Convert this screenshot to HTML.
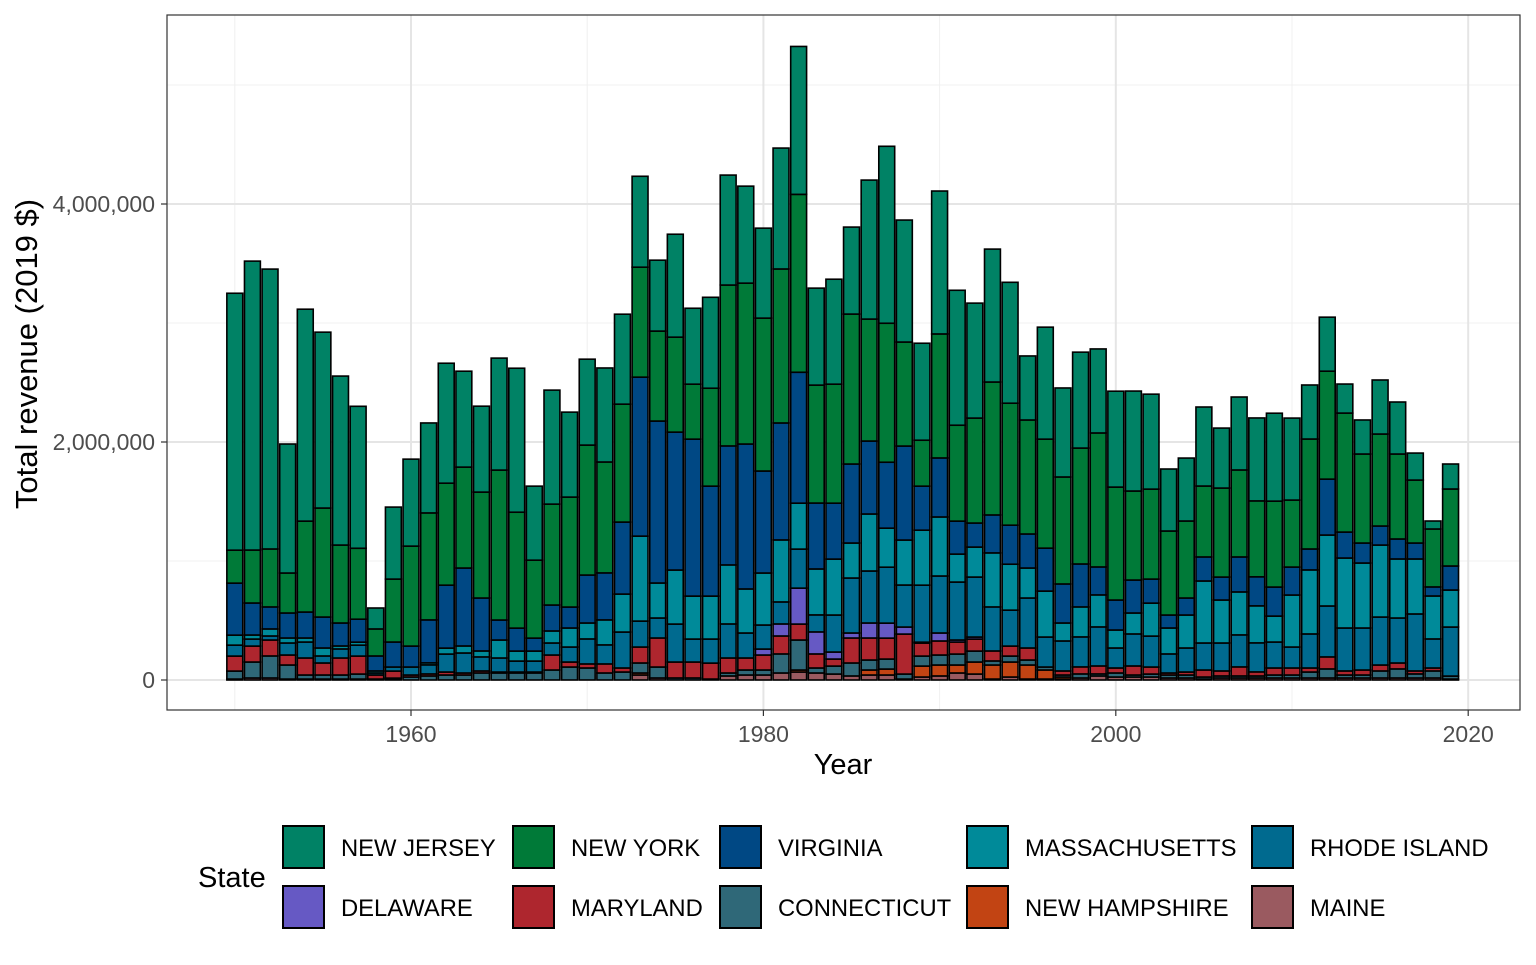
<!DOCTYPE html>
<html><head><meta charset="utf-8"><style>
body{margin:0;background:#fff;}
svg text{font-family:"Liberation Sans",Arial,sans-serif;}
</style></head><body>
<svg id="chart" width="1536" height="960" xmlns="http://www.w3.org/2000/svg">
<rect x="0" y="0" width="1536" height="960" fill="#fff"/>
<g id="grid"></g>
<g id="bars"></g>
<rect x="167" y="15" width="1353" height="695" fill="none" stroke="#333" stroke-width="1.2"/>
<g id="axes"></g>
<text x="843" y="774" font-size="29" text-anchor="middle" fill="#000">Year</text>
<text transform="translate(37,354) rotate(-90)" font-size="31" text-anchor="middle" fill="#000">Total revenue (2019 $)</text>
<g id="legend">
<text x="198" y="887" font-size="29" fill="#000">State</text>
</g>
</svg>
<script>
const years = [];
for (let y = 1950; y <= 2019; y++) years.push(y);
const states = ["NEW JERSEY","NEW YORK","VIRGINIA","MASSACHUSETTS","RHODE ISLAND","DELAWARE","MARYLAND","CONNECTICUT","NEW HAMPSHIRE","MAINE"];
const colors = ["#008265","#007A38","#004884","#008A99","#006A8F","#6659C4","#AE262E","#2F6878","#C24413","#9A5A60"];
// values in thousands of 2019 $
const newJersey = [2159,2428,2352,1084,1781,1478,1420,1193,176,605,731,756,1008,806,722,941,1210,622,958,714,722,790,756,764,596,865,638,764,924,815,756,1016,1243,815,882,731,1168,1487,1025,815,1201,1134,966,1117,1016,538,941,748,806,706,806,840,798,521,529,664,504,613,697,739,689,454,454,244,286,454,437,227,67,210];
const newYork = [277,445,487,336,764,916,655,596,227,529,840,899,857,848,890,1260,974,655,848,924,1092,932,991,924,756,798,462,823,1352,1352,1285,1294,1495,991,1000,1260,1025,1168,874,386,1042,806,882,1117,1025,958,916,899,974,1126,949,748,756,706,647,596,748,731,638,722,563,924,907,1000,748,773,714,529,487,647];
const virginia = [437,269,185,210,218,260,193,193,126,210,176,361,529,655,445,168,193,109,218,176,403,395,605,1336,1361,1159,1319,924,1000,1218,857,983,1100,554,470,664,613,554,790,370,496,277,202,319,328,286,361,328,361,235,252,277,202,109,143,202,193,294,244,244,235,176,470,218,168,160,168,134,76,202];
const massachusetts = [84,34,59,42,34,67,25,25,17,0,0,17,50,59,50,151,84,84,101,160,134,210,319,714,294,454,361,361,496,370,437,521,386,386,470,294,479,328,378,462,496,235,252,454,386,252,386,151,252,269,151,176,277,218,277,521,361,361,311,218,437,538,596,588,546,605,496,462,361,311];
const rhodeIsland = [92,59,34,101,134,59,76,92,17,34,67,76,151,168,118,118,92,92,101,126,210,160,302,218,168,319,193,202,286,210,202,185,328,143,311,462,437,470,353,479,479,487,504,370,302,420,252,252,252,328,168,269,260,160,202,227,235,269,244,218,176,286,428,361,353,403,378,479,244,412];
const delaware = [0,0,0,0,0,0,0,0,0,0,0,0,0,0,0,0,0,0,0,0,0,0,0,0,0,0,0,0,0,0,50,101,302,185,59,42,126,126,59,8,67,17,17,0,0,0,0,0,0,0,0,0,0,0,0,0,0,0,0,0,0,0,0,0,0,0,0,0,0,0];
const maryland = [126,134,134,84,143,101,143,151,34,59,17,17,25,17,17,8,8,8,126,42,34,76,34,134,244,134,134,134,126,101,126,151,134,118,59,210,185,176,336,109,118,101,101,84,84,101,0,34,59,67,42,76,59,17,25,59,42,76,34,59,59,34,101,34,42,50,50,25,25,0];
const connecticut = [67,134,185,118,34,34,34,42,0,8,25,34,42,42,59,59,59,59,84,109,101,59,67,84,92,17,17,8,25,42,42,160,252,42,67,109,84,84,42,84,84,92,92,34,50,42,25,17,34,17,34,17,25,25,25,17,17,17,17,25,25,50,76,25,25,59,76,34,59,25];
const newHampshire = [0,0,0,0,0,0,0,0,0,0,0,0,0,0,0,0,0,0,0,0,0,0,0,17,0,0,0,0,0,0,0,0,17,0,0,0,42,50,0,92,92,67,101,118,126,118,76,17,0,0,0,0,0,0,0,0,0,0,0,0,0,0,0,0,0,0,0,0,0,0];
const maine = [8,17,17,8,8,8,8,8,8,8,0,0,0,0,0,0,0,0,0,0,0,0,0,42,17,0,0,0,34,42,42,59,67,59,50,34,42,42,8,25,34,59,50,8,25,8,8,8,17,34,25,25,25,17,17,8,17,17,17,17,17,17,17,17,17,17,17,17,17,8];
const series = [newJersey,newYork,virginia,massachusetts,rhodeIsland,delaware,maryland,connecticut,newHampshire,maine];
const yTicks = [0,2000000,4000000];
const yTickLabels = ["0","2,000,000","4,000,000"];
const yMinor = [1000000,3000000,5000000];
const xTicks = [1960,1980,2000,2020];
const xMinor = [1950,1970,1990,2010];

const NS = "http://www.w3.org/2000/svg";
const xScale = yr => 411 + (yr - 1960) * 17.62;
const yScale = v => 680 - v / 1000000 * 119;
function mk(tag, attrs, parent){const e=document.createElementNS(NS,tag);for(const k in attrs)e.setAttribute(k,attrs[k]);parent.appendChild(e);return e;}
const grid=document.getElementById('grid'), bars=document.getElementById('bars'), axes=document.getElementById('axes'), legend=document.getElementById('legend');
yMinor.forEach(v=>{const l=mk('line',{x1:167,x2:1520,y1:yScale(v),y2:yScale(v),stroke:'#f0f0f0','stroke-width':1},grid);

});
xMinor.forEach(v=>{const l=mk('line',{x1:xScale(v),x2:xScale(v),y1:15,y2:710,stroke:'#f0f0f0','stroke-width':1},grid);

});
yTicks.forEach((v,i)=>{const l=mk('line',{x1:167,x2:1520,y1:yScale(v),y2:yScale(v),stroke:'#e5e5e5','stroke-width':2},grid);


const t=mk('line',{x1:161,x2:167,y1:yScale(v),y2:yScale(v),stroke:'#333','stroke-width':1.2},axes);


const tx=mk('text',{x:155,y:yScale(v)+8,'font-size':23,'text-anchor':'end',fill:'#4d4d4d'},axes);tx.textContent=yTickLabels[i];

});
xTicks.forEach(v=>{const l=mk('line',{x1:xScale(v),x2:xScale(v),y1:15,y2:710,stroke:'#e5e5e5','stroke-width':2},grid);


const t=mk('line',{x1:xScale(v),x2:xScale(v),y1:710,y2:716,stroke:'#333','stroke-width':1.2},axes);


const tx=mk('text',{x:xScale(v),y:742,'font-size':23,'text-anchor':'middle',fill:'#4d4d4d'},axes);tx.textContent=v;

});
const bw=15.9;
years.forEach((yr,i)=>{
  let cum=0;
  for(let s=series.length-1;s>=0;s--){
    const v=series[s][i]*1000;
    if(v<=0) continue;
    const y0=yScale(cum), y1=yScale(cum+v);
    const r=mk('rect',{x:xScale(yr)-bw/2,y:y1,width:bw,height:Math.max(0,y0-y1),fill:colors[s],stroke:'#000','stroke-width':1.6},bars);
    
    
    cum+=v;
  }
});
const lx=[282,512,719,966,1251];
states.forEach((s,i)=>{
  const col=i%5,row=Math.floor(i/5);
  const g=mk('g',{},legend);
  
  
  mk('rect',{x:lx[col]+1,y:826+row*60,width:41,height:42,fill:colors[i],stroke:'#000','stroke-width':2},g);
  const t=mk('text',{x:lx[col]+59,y:856+row*60,'font-size':23.8,fill:'#000'},g);t.textContent=s;
});
</script>
</body></html>
